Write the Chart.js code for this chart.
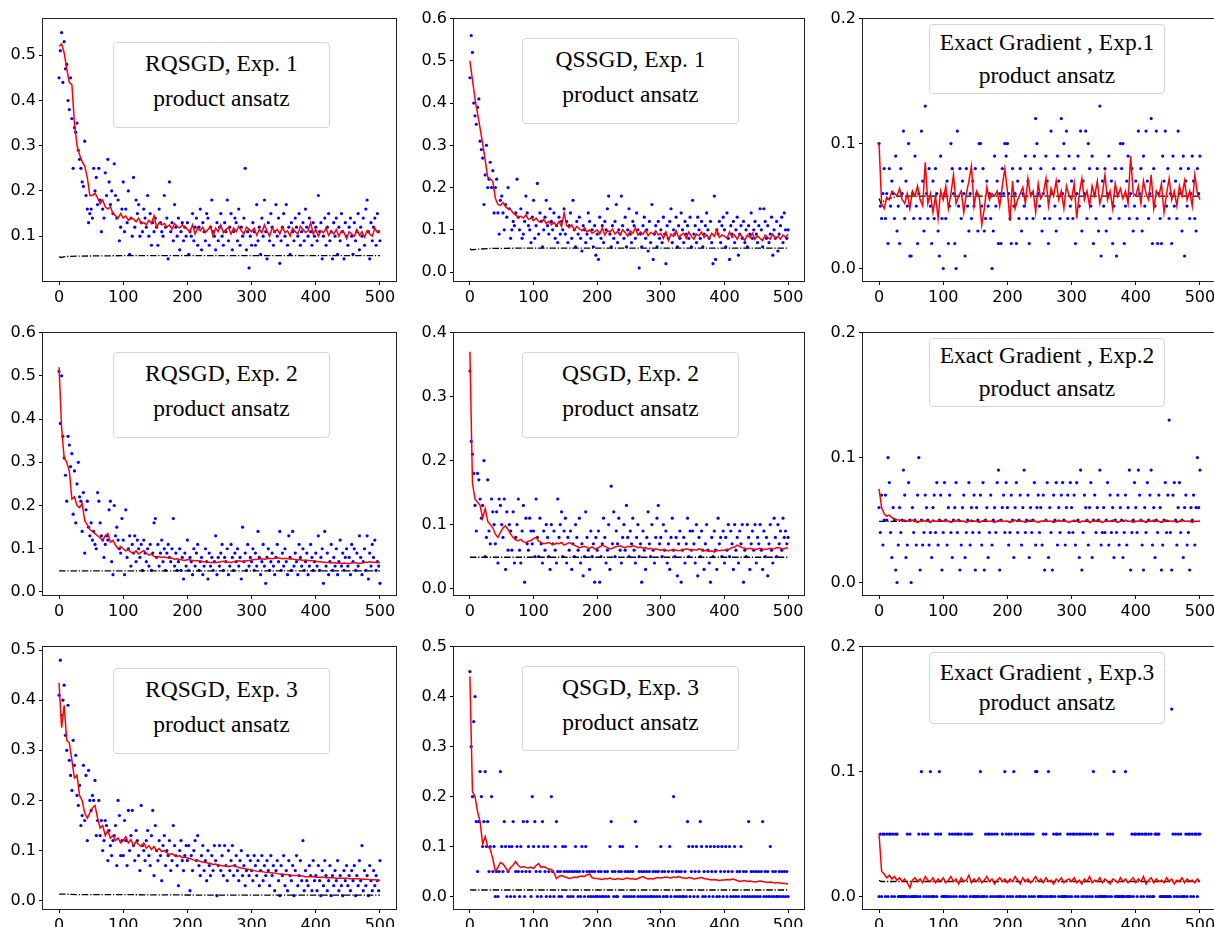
<!DOCTYPE html>
<html>
<head>
<meta charset="utf-8">
<script src="https://cdn.jsdelivr.net/npm/chart.js@4.4.1/dist/chart.umd.min.js"></script>
<style>
  body { margin: 0; background: #fff; width: 1214px; height: 927px; overflow: hidden; position: relative; }
  canvas { position: absolute; }
  .note {
    position: absolute; box-sizing: border-box; background: #fff;
    border: 1px solid #d4d4d4; border-radius: 4px;
    font-family: "Liberation Serif", serif; font-size: 23.5px; color: #000;
    text-align: center; white-space: nowrap;
  }
</style>
</head>
<body>
<script>
// iteration axis and tick labels
const xTicks = [0, 100, 200, 300, 400, 500];
const ticks02 = [0, 0.1, 0.2];
const ticks04 = [0, 0.1, 0.2, 0.3, 0.4];
const ticks05 = [0, 0.1, 0.2, 0.3, 0.4, 0.5];
const ticks06 = [0, 0.1, 0.2, 0.3, 0.4, 0.5, 0.6];
const ticks15 = [0.1, 0.2, 0.3, 0.4, 0.5];

// blue samples: one every 2 iterations, in units of 0.01
// red running value: one every 4 iterations, in units of 0.001
// black dash-dot reference: values at blackIters
const blackIters = [0, 3, 10, 30, 100, 250, 500];

// RQSGD, Exp. 1
const p1Dots = [
  45,51,55,44,53,47,48,40,38,45,36,25,34,33,35,29,27,25,22,21,31,19,16,13,15,
  16,14,25,20,23,17,25,18,11,16,14,24,19,27,22,17,20,15,26,19,14,18,9,12,16,
  22,11,16,13,20,6,14,10,23,12,18,15,17,10,13,11,16,14,12,19,10,15,8,13,11,
  14,12,8,16,13,11,10,19,12,14,5,22,11,13,9,17,12,10,14,7,11,13,9,12,10,
  13,6,11,10,15,9,12,14,8,12,16,7,13,11,9,15,14,8,12,18,11,10,7,13,9,
  12,15,10,8,13,11,18,9,12,15,7,11,14,13,9,16,8,12,10,14,25,7,11,3,10,
  8,13,11,8,17,9,12,6,14,10,18,11,5,13,9,15,12,8,11,17,10,14,4,9,12,
  15,10,17,8,12,6,13,11,9,14,12,10,15,8,11,13,9,16,12,10,14,11,8,13,10,
  12,9,19,11,13,5,10,14,8,12,15,9,11,5,13,10,14,6,12,9,15,11,5,13,10,
  8,12,14,10,6,13,9,11,15,7,12,10,14,8,16,18,11,5,13,9,12,14,8,15,11,
  9];
const p1Mean = [
  520,525,505,470,440,435,350,300,280,265,255,230,190,190,195,185,172,180,165,160,165,150,145,140,150,
  140,145,135,140,138,132,140,128,130,125,135,128,145,120,130,125,128,120,125,115,128,122,118,125,120,
  115,110,125,105,118,112,120,108,115,122,100,118,110,125,108,115,120,105,118,110,122,112,105,120,115,
  110,118,102,115,108,125,112,100,118,110,115,105,120,108,112,100,118,110,105,122,115,108,112,130,105,
  115,100,112,108,118,102,110,105,115,100,112,108,95,110,105,100,115,102,110,98,112,105,100,118,108,
  110];
const p1Exact = [0.055, 0.053, 0.055, 0.056, 0.057, 0.057, 0.057];

// QSSGD, Exp. 1
const p2Dots = [
  46,56,52,40,37,35,39,41,31,29,27,16,23,30,20,22,26,20,24,14,20,22,14,9,17,
  18,14,10,16,13,20,15,8,10,12,11,14,22,13,10,15,8,9,12,18,14,11,10,7,13,
  17,8,11,21,9,14,12,6,10,13,17,11,9,15,12,10,14,8,11,7,13,9,12,10,15,
  9,12,7,11,14,8,17,10,6,12,9,13,8,5,11,10,7,9,14,12,8,10,6,11,4,
  9,3,13,8,11,7,12,10,15,18,9,6,11,8,12,16,7,10,9,18,11,8,13,6,10,
  15,9,7,12,11,8,14,10,1,9,6,11,13,8,10,5,12,7,16,3,9,11,6,12,8,
  10,7,13,9,2,11,8,12,15,7,10,9,13,6,11,8,14,10,7,12,9,11,8,13,6,
  17,9,11,7,13,10,8,12,6,9,11,14,10,8,12,7,2,18,3,10,9,12,7,11,13,
  10,6,14,8,3,11,9,12,7,10,13,4,9,11,8,12,7,10,6,11,9,14,8,10,12,
  9,7,11,15,10,6,15,12,8,11,7,9,13,4,10,8,12,5,9,11,13,7,14,10,8,
  10];
const p2Mean = [
  500,455,410,375,340,305,265,225,220,215,175,160,158,165,155,150,148,140,135,130,132,128,135,125,128,
  122,128,120,118,125,115,120,112,118,110,120,108,140,110,105,112,100,108,102,98,105,95,100,92,96,
  100,90,105,88,98,95,102,90,96,88,100,94,85,98,92,105,88,95,90,100,86,94,90,98,88,
  92,80,95,75,90,85,98,82,88,92,80,95,85,78,90,86,95,82,88,80,92,85,100,82,88,
  85,80,95,82,88,78,90,84,75,88,82,92,78,86,80,75,88,82,78,90,80,85,78,88,82,
  90];
const p2Exact = [0.055, 0.053, 0.054, 0.056, 0.057, 0.057, 0.057];

// Exact Gradient, Exp.1
const p3Dots = [
  10,5,4,6,8,4,6,2,8,5,7,6,4,9,3,5,2,8,6,11,4,7,5,10,1,
  1,6,4,9,5,2,6,4,11,7,3,13,6,4,8,5,2,7,4,8,6,3,1,9,4,
  0,6,4,7,2,5,10,8,6,2,0,11,5,8,4,7,6,1,8,5,3,6,4,7,5,
  8,6,3,10,10,5,8,3,4,7,5,6,4,0,3,9,5,7,2,6,2,8,6,10,9,
  10,6,4,2,8,5,6,2,7,4,8,3,6,5,9,4,7,2,8,6,4,9,12,10,6,
  5,8,3,6,4,9,7,2,4,11,6,8,5,3,9,7,4,12,6,10,8,11,4,9,5,
  7,4,8,2,6,9,5,11,3,7,6,11,4,10,8,5,9,2,6,4,8,3,13,1,7,
  5,8,3,6,9,4,7,2,5,8,1,6,4,10,8,10,2,5,7,9,4,6,8,3,5,
  7,4,11,6,8,3,9,5,11,7,4,6,12,2,8,5,11,2,6,4,2,9,7,11,5,
  8,4,6,2,9,5,7,4,11,6,8,3,9,1,7,5,8,4,6,9,7,4,3,8,6,
  9];
const p3Mean = [
  100,52,48,57,55,62,60,58,64,55,52,60,48,62,58,66,55,50,85,52,60,45,58,40,62,
  55,66,48,60,75,52,58,62,45,60,70,82,50,62,58,35,48,65,55,60,58,62,50,66,80,
  62,38,70,48,55,60,65,52,72,58,62,45,68,56,60,72,50,64,58,70,55,62,48,66,58,
  55,68,40,60,72,55,62,50,66,58,70,52,60,75,55,62,48,68,58,64,56,62,52,90,60,
  58,66,52,70,60,55,75,48,62,58,68,45,60,72,55,62,50,66,58,70,55,62,50,75,60,
  55];
const p3Exact = [0.056, 0.052, 0.055, 0.058, 0.058, 0.058, 0.058];

// RQSGD, Exp. 2
const p4Dots = [
  51,39,50,36,31,27,21,36,34,29,32,18,28,16,25,30,22,21,14,23,9,19,21,15,13,
  16,12,14,11,10,23,21,16,13,12,8,11,13,12,19,21,7,4,20,13,15,12,10,9,17,
  12,4,19,8,10,13,6,11,9,13,7,12,10,8,11,5,12,9,7,10,6,11,5,9,16,
  17,8,11,6,9,12,7,10,5,9,11,8,7,10,17,6,9,5,7,10,5,8,3,9,6,
  12,5,8,7,4,10,6,9,11,5,7,8,4,6,10,7,3,9,6,8,5,7,13,4,8,
  6,9,11,5,8,7,10,4,6,11,8,5,9,7,10,6,8,3,15,7,9,5,11,6,8,
  7,10,5,9,6,14,8,4,7,11,6,2,8,10,5,7,9,6,4,8,11,7,14,5,9,
  6,10,7,4,13,8,5,14,6,9,7,4,11,8,6,10,5,7,9,4,6,11,8,5,7,
  9,6,13,5,8,10,2,14,6,9,4,7,11,5,8,6,10,4,7,12,6,9,5,8,10,
  6,8,4,11,7,10,5,9,6,13,8,4,7,10,5,13,3,9,6,11,8,12,5,7,6,
  2];
const p4Mean = [
  520,380,310,300,280,215,220,200,195,205,165,155,145,140,135,130,125,120,130,135,115,120,108,100,105,
  100,95,98,92,90,95,88,92,96,90,85,88,82,80,82,80,81,79,80,78,76,77,75,74,73,
  75,74,73,72,72,71,70,70,69,68,68,68,69,70,71,70,69,68,70,71,72,71,70,72,73,
  74,75,75,76,77,76,77,78,77,78,79,78,77,78,77,76,76,75,74,75,73,74,73,72,72,
  71,70,70,69,68,68,67,68,67,67,66,67,66,66,67,68,67,66,67,68,69,70,69,69,68,
  68];
const p4Exact = [0.049, 0.049, 0.049, 0.049, 0.049, 0.049, 0.049];

// QSGD, Exp. 2
const p5Dots = [
  34,23,21,18,13,9,18,17,14,11,13,20,5,8,17,9,7,14,12,10,7,12,4,14,13,
  10,8,14,3,12,6,10,9,6,12,4,8,10,14,6,4,9,13,1,11,7,6,11,9,7,
  9,5,14,8,5,11,7,4,9,6,10,8,5,3,10,7,9,6,4,14,8,10,12,5,9,
  11,4,8,6,9,3,7,5,10,8,6,11,4,7,2,5,12,8,6,3,9,5,7,1,8,
  6,9,1,5,7,11,8,4,6,10,3,16,7,12,5,9,7,11,6,4,8,10,6,13,8,
  5,9,7,11,6,4,8,10,5,7,1,9,6,3,8,12,7,5,10,6,4,8,11,13,7,
  8,5,10,6,9,4,7,3,8,11,6,5,8,2,7,9,1,6,8,4,7,11,5,9,6,
  9,7,4,10,2,8,5,9,6,3,7,10,6,4,1,8,5,9,6,3,11,7,8,5,9,
  4,8,6,10,5,9,7,3,10,6,8,4,9,7,10,1,6,5,10,8,3,7,9,6,10,
  4,8,7,10,6,3,9,5,8,2,7,10,6,4,11,8,5,10,7,9,6,11,8,9,7,
  8];
const p5Mean = [
  370,165,140,135,130,110,125,105,100,95,85,80,88,95,98,92,85,80,76,75,77,73,72,74,75,
  78,80,74,72,70,71,72,70,69,71,70,72,68,70,72,70,68,66,64,65,66,64,63,65,62,
  63,65,68,66,64,62,63,65,66,67,65,64,66,65,67,66,64,65,63,64,62,63,61,62,61,
  60,61,60,59,60,61,60,59,60,61,62,61,60,61,60,62,61,59,60,58,59,57,60,59,60,
  60,61,62,64,65,68,66,64,63,62,63,62,61,62,63,62,61,62,63,62,63,64,63,62,63,
  64];
const p5Exact = [0.049, 0.049, 0.049, 0.049, 0.049, 0.049, 0.049];

// Exact Gradient, Exp.2
const p6Dots = [
  6,4,7,3,5,7,5,10,8,4,2,6,5,1,0,3,6,4,5,9,7,2,3,8,5,
  0,6,4,5,3,7,10,1,5,3,4,7,6,5,3,4,2,6,7,4,8,3,5,7,1,
  4,8,5,3,6,7,4,2,5,6,8,4,5,1,3,6,7,2,4,5,8,3,6,4,7,
  1,6,5,4,7,3,8,1,5,6,2,4,7,3,5,6,4,8,9,1,5,6,7,4,8,
  6,3,4,7,5,2,6,8,4,5,7,3,6,9,4,5,7,2,6,4,5,8,3,6,7,
  4,6,3,7,1,5,8,2,6,4,1,7,5,8,3,6,4,7,8,5,3,6,7,4,8,
  6,4,7,3,8,5,2,9,1,4,7,6,5,3,6,8,2,5,7,4,6,5,9,3,4,
  6,4,5,8,3,7,4,6,2,5,4,7,3,6,5,2,4,7,3,6,9,1,4,5,8,
  6,4,9,7,5,3,1,6,4,8,5,7,9,3,6,2,5,4,7,6,1,3,5,8,4,
  7,13,4,1,7,8,5,3,6,8,4,5,2,6,7,3,4,1,6,5,7,3,6,10,6,
  9];
const p6Mean = [
  75,60,55,53,54,52,51,50,50,49,50,49,49,50,49,48,49,50,49,49,48,50,49,49,50,
  49,50,49,48,49,49,50,49,49,48,49,50,49,49,48,49,50,49,49,49,48,49,50,49,49,
  49,48,49,50,49,49,49,48,49,50,49,49,48,49,49,50,49,49,48,49,50,49,49,49,48,
  49,50,49,48,49,49,50,48,49,49,50,49,48,49,49,49,50,49,48,49,49,50,49,49,48,
  49,49,50,49,48,49,49,50,49,49,48,49,50,49,49,49,48,49,50,49,49,49,48,49,49,
  49];
const p6Exact = [0.049, 0.049, 0.049, 0.049, 0.049, 0.049, 0.049];

// RQSGD, Exp. 3
const p7Dots = [
  41,48,37,40,43,33,30,39,28,25,22,32,27,29,21,19,23,15,17,27,16,25,12,26,20,
  18,21,20,24,13,16,20,13,16,10,12,16,15,8,14,11,9,12,13,15,7,20,17,9,12,
  9,16,12,7,18,10,13,18,11,8,14,12,9,6,19,11,10,8,12,14,9,7,13,18,5,
  15,10,8,12,9,4,11,13,7,10,9,12,6,8,15,11,9,7,3,10,12,8,6,9,11,
  8,11,2,9,6,10,12,8,13,7,5,9,11,6,8,4,10,7,5,9,6,11,8,1,7,
  11,6,9,5,11,7,4,10,6,8,11,5,7,9,6,4,8,10,5,7,3,6,9,5,8,
  6,4,9,7,5,8,3,6,9,4,7,5,8,6,3,9,5,7,2,6,8,4,1,7,5,
  9,3,6,2,8,5,4,7,1,6,9,3,5,8,4,12,2,6,4,3,7,5,2,8,4,
  5,2,7,4,1,6,3,8,5,2,4,7,1,5,3,6,4,8,2,5,3,1,6,4,7,
  3,5,2,6,4,7,1,5,3,8,4,11,2,6,3,5,1,7,4,2,6,3,5,4,2,
  8];
const p7Mean = [
  435,345,390,320,315,280,245,250,210,200,175,165,175,185,190,165,145,150,130,140,125,130,120,125,115,
  120,128,115,122,110,118,112,108,115,105,110,102,108,100,104,98,100,95,92,94,90,88,90,86,87,
  85,84,82,80,81,78,77,76,75,74,72,73,71,70,69,70,68,69,70,68,66,65,64,63,62,
  61,60,59,58,58,57,56,56,55,55,54,53,53,52,52,51,50,50,50,49,49,48,48,48,48,
  47,47,47,47,46,46,46,46,45,45,45,45,45,44,44,44,44,44,43,43,43,42,42,42,41,
  41];
const p7Exact = [0.013, 0.013, 0.013, 0.012, 0.012, 0.011, 0.011];

// QSGD, Exp. 3
const p8Dots = [
  45,30,20,35,40,15,5,15,25,20,10,15,25,10,15,5,10,20,5,10,0,5,0,5,25,
  10,5,15,10,0,5,10,0,10,15,0,5,10,5,0,10,5,15,0,5,15,10,5,0,20,
  10,15,5,0,10,5,0,15,10,5,0,10,5,0,20,5,0,10,15,5,0,5,0,10,5,
  10,5,0,5,0,5,0,5,10,5,0,5,0,10,5,0,10,5,0,5,0,5,0,5,0,
  0,5,0,5,0,0,5,0,5,0,10,15,5,0,5,0,0,5,10,5,10,0,5,0,5,
  0,5,0,5,0,15,10,0,5,0,5,0,5,0,5,0,5,0,0,5,0,5,0,5,0,
  10,5,0,5,0,0,5,10,0,5,20,0,5,0,5,0,5,0,0,5,0,15,10,0,5,
  10,0,5,10,0,5,15,10,0,5,0,10,5,0,10,5,0,10,5,0,10,0,5,10,0,
  5,10,0,5,10,0,5,0,10,0,5,0,5,10,0,5,0,5,0,15,0,5,0,5,0,
  5,0,5,0,5,15,0,5,0,5,0,10,0,5,0,5,0,0,5,0,5,0,5,0,5,
  0];
const p8Mean = [
  440,210,200,170,150,105,120,100,95,75,50,58,68,65,58,50,58,63,70,62,58,60,58,57,59,
  56,62,66,58,60,57,55,54,48,36,40,42,40,38,36,37,39,38,40,41,40,43,45,38,36,
  36,35,34,36,35,37,35,34,36,35,34,36,37,35,36,34,36,38,40,37,35,36,35,37,38,
  37,38,39,38,37,39,38,40,38,37,36,38,37,35,36,37,38,36,35,34,33,34,33,32,33,
  33,34,33,35,34,32,30,31,32,30,31,30,29,30,31,30,29,28,29,28,27,28,27,26,26,
  25];
const p8Exact = [0.014, 0.013, 0.013, 0.013, 0.013, 0.013, 0.013];

// Exact Gradient, Exp.3
const p9Dots = [
  0,5,0,5,5,0,5,0,5,5,0,5,0,5,5,0,0,0,0,0,0,0,5,0,5,
  0,0,0,0,0,0,5,0,10,5,0,5,0,5,0,10,0,0,0,5,0,5,10,5,0,
  0,0,0,0,0,5,0,5,0,5,0,5,5,0,5,0,0,5,0,5,5,0,5,0,0,
  0,0,0,0,10,0,0,0,5,0,5,5,0,5,0,5,0,5,0,0,0,5,0,10,5,
  0,5,0,5,0,10,5,0,5,0,0,5,0,5,0,5,5,0,5,0,5,0,10,10,0,
  0,0,0,5,0,5,0,10,0,0,0,5,0,5,5,0,5,0,0,0,0,0,5,0,5,
  0,5,5,0,5,0,5,5,0,5,0,5,0,5,0,5,0,10,5,0,5,0,0,0,0,
  0,0,0,5,0,5,0,5,10,0,0,0,0,0,0,0,0,10,0,0,0,0,5,0,5,
  5,0,5,5,0,5,0,5,5,0,5,0,5,0,0,5,5,5,5,0,0,0,0,0,0,
  0,0,0,15,5,0,5,0,5,0,5,0,0,0,5,0,5,5,0,5,0,5,5,0,5,
  5];
const p9Mean = [
  50,20,18,15,17,14,16,13,15,12,14,11,7,13,15,12,14,11,16,13,12,15,11,14,12,
  15,11,13,16,12,14,10,15,12,13,17,11,14,12,15,11,13,16,12,14,10,13,15,12,14,
  11,14,12,16,13,10,15,12,14,11,13,16,12,14,11,15,12,13,10,14,12,15,11,13,14,
  12,15,11,13,10,14,12,16,11,13,12,15,11,14,12,10,14,13,11,15,12,14,11,13,15,
  11,14,12,16,10,13,15,11,14,12,13,11,15,12,14,10,13,12,15,11,14,12,13,11,14,
  12];
const p9Exact = [0.013, 0.012, 0.012, 0.012, 0.012, 0.012, 0.012];

const panels = [
  { dots: p1Dots, mean: p1Mean, exact: p1Exact, yMin: 0.001, yMax: 0.581, yTicks: ticks15, title: 'RQSGD, Exp. 1' },
  { dots: p2Dots, mean: p2Mean, exact: p2Exact, yMin: -0.021, yMax: 0.6, yTicks: ticks06, title: 'QSSGD, Exp. 1' },
  { dots: p3Dots, mean: p3Mean, exact: p3Exact, yMin: -0.01, yMax: 0.2, yTicks: ticks02, title: 'Exact Gradient , Exp.1' },
  { dots: p4Dots, mean: p4Mean, exact: p4Exact, yMin: -0.007, yMax: 0.6, yTicks: ticks06, title: 'RQSGD, Exp. 2' },
  { dots: p5Dots, mean: p5Mean, exact: p5Exact, yMin: -0.01, yMax: 0.4, yTicks: ticks04, title: 'QSGD, Exp. 2' },
  { dots: p6Dots, mean: p6Mean, exact: p6Exact, yMin: -0.01, yMax: 0.2, yTicks: ticks02, title: 'Exact Gradient , Exp.2' },
  { dots: p7Dots, mean: p7Mean, exact: p7Exact, yMin: -0.0166, yMax: 0.507, yTicks: ticks05, title: 'RQSGD, Exp. 3' },
  { dots: p8Dots, mean: p8Mean, exact: p8Exact, yMin: -0.025, yMax: 0.5, yTicks: ticks05, title: 'QSGD, Exp. 3' },
  { dots: p9Dots, mean: p9Mean, exact: p9Exact, yMin: -0.01, yMax: 0.2, yTicks: ticks02, title: 'Exact Gradient , Exp.3' }
];

// plot area placement (page pixels)
const colLeft = [43, 454, 863];
const colWidth = [353, 350, 353];
const rowTop = [18, 332, 646];
const rowHeight = [263, 263, 263];
const AXIS_W = 50, PAD_TOP = 12, PAD_RIGHT = 20, AXIS_H = 32;

// text boxes: left, top, width, height, line height, top padding
const notes = [
  [113, 42, 217, 86, 35, 3], [522, 38, 217, 86, 35, 3], [929, 24, 236, 70, 33, 1],
  [113, 352, 217, 86, 35, 3], [522, 352, 217, 86, 35, 3], [929, 338, 236, 69, 33, 0],
  [113, 668, 217, 86, 35, 3], [522, 666, 217, 85, 35, 3], [929, 652, 236, 72, 30, 4]
];

const frame = {
  id: 'frame',
  afterDraw(chart) {
    const a = chart.chartArea, c = chart.ctx;
    c.save();
    c.strokeStyle = '#222';
    c.lineWidth = 1;
    c.strokeRect(Math.round(a.left) - 0.5, Math.round(a.top) - 0.5,
      Math.round(a.right - a.left) + 1, Math.round(a.bottom - a.top) + 1);
    c.restore();
  }
};

const tickFont = { family: 'DejaVu Sans', size: 16 };

panels.forEach((p, k) => {
  const col = k % 3, row = Math.floor(k / 3);
  const cv = document.createElement('canvas');
  const w = colWidth[col] + AXIS_W + PAD_RIGHT, h = rowHeight[row] + PAD_TOP + AXIS_H;
  cv.width = w; cv.height = h;
  cv.style.left = (colLeft[col] - AXIS_W) + 'px';
  cv.style.top = (rowTop[row] - PAD_TOP) + 'px';
  document.body.appendChild(cv);

  const nd = p.dots.length, nm = p.mean.length;
  new Chart(cv, {
    type: 'scatter',
    data: {
      datasets: [
        {
          data: p.mean.map((v, i) => ({ x: i * 500 / (nm - 1), y: v / 1000 })),
          showLine: true, borderColor: '#ff0000', borderWidth: 1.5, pointRadius: 0, order: 1
        },
        {
          data: blackIters.map((x, i) => ({ x: x, y: p.exact[i] })),
          showLine: true, borderColor: '#000', borderWidth: 1.3, borderDash: [6.5, 1.8, 1.3, 1.8],
          pointRadius: 0, order: 2
        },
        {
          data: p.dots.map((v, i) => ({ x: i * 500 / (nd - 1), y: v / 100 })),
          pointRadius: 1.6, pointBorderWidth: 0, backgroundColor: '#0000ff', borderColor: '#0000ff', order: 3
        }
      ]
    },
    options: {
      animation: false, responsive: false, devicePixelRatio: 1,
      layout: { padding: { left: 0, top: PAD_TOP, right: PAD_RIGHT, bottom: 0 } },
      plugins: { legend: { display: false }, tooltip: { enabled: false } },
      scales: {
        x: {
          type: 'linear', min: -25, max: 525,
          afterBuildTicks: s => { s.ticks = xTicks.map(v => ({ value: v })); },
          afterFit: s => { s.height = AXIS_H; },
          grid: { drawOnChartArea: false, tickLength: 4, color: '#000' },
          border: { display: false },
          ticks: { font: tickFont, color: '#000', padding: 3, maxRotation: 0, autoSkip: false }
        },
        y: {
          type: 'linear', min: p.yMin, max: p.yMax,
          afterBuildTicks: s => { s.ticks = p.yTicks.map(v => ({ value: v })); },
          afterFit: s => { s.width = AXIS_W; },
          grid: { drawOnChartArea: false, tickLength: 4, color: '#000' },
          border: { display: false },
          ticks: { font: tickFont, color: '#000', padding: 3, autoSkip: false, callback: v => v.toFixed(1) }
        }
      }
    },
    plugins: [frame]
  });

  const n = notes[k];
  const box = document.createElement('div');
  box.className = 'note';
  box.style.left = n[0] + 'px'; box.style.top = n[1] + 'px';
  box.style.width = n[2] + 'px'; box.style.height = n[3] + 'px';
  box.style.lineHeight = n[4] + 'px'; box.style.paddingTop = n[5] + 'px';
  [p.title, 'product ansatz'].forEach(t => {
    const line = document.createElement('div');
    line.textContent = t;
    box.appendChild(line);
  });
  document.body.appendChild(box);
});
</script>
</body>
</html>
